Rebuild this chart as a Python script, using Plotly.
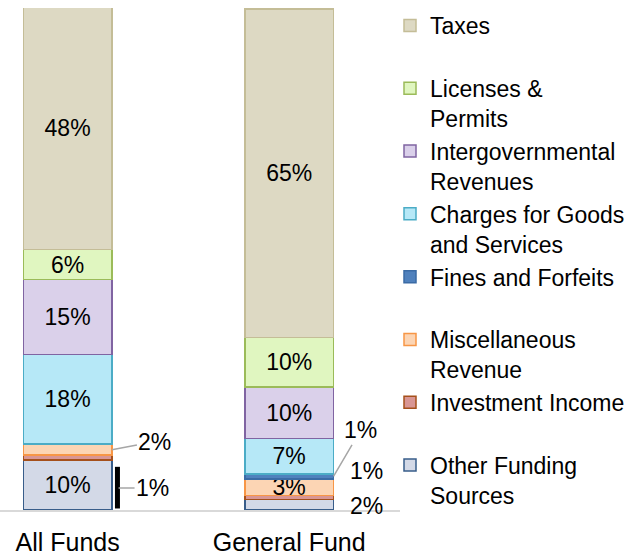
import plotly.graph_objects as go

categories = ["All Funds", "General Fund"]

# bottom-to-top stacking order
series_names = [
    "Other Funding Sources",
    "Investment Income",
    "Miscellaneous Revenue",
    "Fines and Forfeits",
    "Charges for Goods and Services",
    "Intergovernmental Revenues",
    "Licenses & Permits",
    "Taxes",
]
legend_names = [
    "Other Funding<br>Sources",
    "Investment Income<br>\u00a0",
    "Miscellaneous<br>Revenue",
    "Fines and Forfeits<br>\u00a0",
    "Charges for Goods<br>and Services",
    "Intergovernmental<br>Revenues",
    "Licenses &<br>Permits",
    "Taxes<br>\u00a0",
]
all_funds = [10.0, 1.0, 2.0, 0.1, 17.9, 14.9, 6.0, 48.2]
general_fund = [2.1, 0.8, 3.3, 1.0, 7.0, 10.3, 9.9, 65.4]

fills = ["#D3D9E7", "#D99694", "#FCD5B4", "#4F81BD", "#B6E8F7", "#DAD0EA", "#E0F6C0", "#DDD9C3"]
lines = ["#385D8A", "#A5501B", "#F79646", "#3A6BA5", "#4BACC6", "#8064A2", "#9BBB59", "#C4BD97"]

FONT = "Liberation Sans, Arial, sans-serif"
INSIDE_MIN = 3  # segments smaller than this are labelled outside
LBL_SIZE = 23

fig = go.Figure()
for i, name in enumerate(series_names):
    vals = [all_funds[i], general_fund[i]]
    texts = [f"{round(v)}%" if v >= INSIDE_MIN else "" for v in vals]
    fig.add_trace(go.Bar(
        x=categories, y=vals, name=legend_names[i],
        legendgroup=name,
        text=texts, textposition="inside", insidetextanchor="middle",
        constraintext="none", textangle=0,
        textfont=dict(size=LBL_SIZE, color="black", family=FONT),
        marker=dict(color=fills[i], line=dict(color=lines[i], width=1.5)),
        width=0.4,
        hoverinfo="skip",
    ))

def cum_mid(vals, idx):
    return sum(vals[:idx]) + vals[idx] / 2

annots = []
lbl = dict(size=LBL_SIZE, color="black", family=FONT)
# All Funds: Miscellaneous (2%) with leader
annots.append(dict(x=0.2, y=cum_mid(all_funds, 2), xref="x", yref="y",
                   text=f"{round(all_funds[2])}%", showarrow=True, arrowhead=0,
                   arrowcolor="#A6A6A6", arrowwidth=1.5, ax=43, ay=-8, font=lbl))
# All Funds: Investment (1%) with leader
annots.append(dict(x=0.23, y=4.4, xref="x", yref="y",
                   text=f"{round(all_funds[1])}%", showarrow=True, arrowhead=0,
                   arrowcolor="#A6A6A6", arrowwidth=1.5, ax=34, ay=0, font=lbl))
# General Fund: Fines (1%) with leader
annots.append(dict(x=1.2, y=cum_mid(general_fund, 3), xref="x", yref="y",
                   text=f"{round(general_fund[3])}%", showarrow=True, arrowhead=0,
                   arrowcolor="#A6A6A6", arrowwidth=1.5, ax=27, ay=-46, font=lbl))
# General Fund: Investment (1%)
annots.append(dict(x=1.2, y=7.8, xref="x", yref="y", xshift=33,
                   text=f"{round(general_fund[1])}%", showarrow=False, font=lbl))
# General Fund: Other (2%)
annots.append(dict(x=1.2, y=0.8, xref="x", yref="y", xshift=33,
                   text=f"{round(general_fund[0])}%", showarrow=False, font=lbl))

fig.update_layout(
    barmode="stack",
    width=644, height=557,
    margin=dict(l=0, r=244, t=8, b=47),
    plot_bgcolor="white", paper_bgcolor="white",
    font=dict(family=FONT, size=22, color="black"),
    showlegend=True,
    legend=dict(traceorder="reversed", x=0.975, xanchor="left", y=1.008, yanchor="top",
                valign="top", tracegroupgap=5.6, maxheight=1.0,
                font=dict(size=23, family=FONT, color="black"),
                bgcolor="rgba(0,0,0,0)"),
    annotations=annots,
    shapes=[dict(type="line", xref="x", yref="y", x0=0.225, x1=0.225, y0=0.3, y1=8.6,
                 line=dict(color="black", width=5))],
    xaxis=dict(range=[-0.305, 1.5], showline=True, linecolor="#D9D9D9", linewidth=1.5,
               ticks="", showgrid=False, zeroline=False,
               tickfont=dict(size=25, family=FONT), ticklabelstandoff=9),
    yaxis=dict(range=[0, 100], visible=False, showgrid=False, zeroline=False),
)

fig.write_html("out.html", config={"displayModeBar": False},
               post_script="document.body.style.margin='0';")
